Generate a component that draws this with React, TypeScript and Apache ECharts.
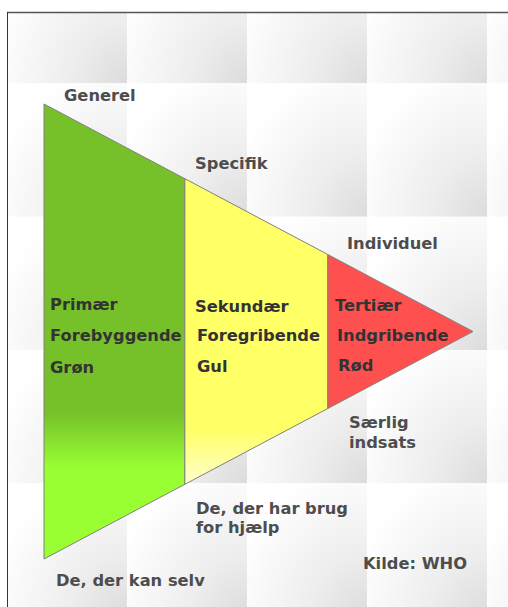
import React, { useEffect, useRef } from "react";
import * as echarts from "echarts";

// Sections of the intervention triangle (depth along the triangle, 0 = base, 3 = apex)
const sectionStarts = [0, 0.985, 1.985];
const sectionEnds = [0.985, 1.985, 3];
const apexDepth = 3;
const sectionNames = ["Primær", "Sekundær", "Tertiær"];
const sectionTypes = ["Forebyggende", "Foregribende", "Indgribende"];
const sectionColours = ["Grøn", "Gul", "Rød"];
const topLabels = ["Generel", "Specifik", "Individuel"];
const bottomLabels = ["De, der kan selv", "De, der har brug\nfor hjælp", "Særlig\nindsats"];
const sourceLabel = "Kilde: WHO";

const FONT = "'DejaVu Sans', Verdana, sans-serif";
const OUT_COLOR = "#4d4d4d";
const IN_COLOR = "#333333";

const fills = [
  new echarts.graphic.LinearGradient(0, 0, 0, 1, [
    { offset: 0, color: "#76c12a" },
    { offset: 0.68, color: "#76c12a" },
    { offset: 0.8, color: "#99ff33" },
    { offset: 1, color: "#99ff33" },
  ]),
  new echarts.graphic.LinearGradient(0, 0, 0, 1, [
    { offset: 0, color: "#ffff66" },
    { offset: 0.82, color: "#ffff66" },
    { offset: 1, color: "#ffffcc" },
  ]),
  "#ff5050",
];

function buildTiles() {
  const tiles: any[] = [];
  const tw = 120;
  const th = 133.33;
  for (let c = 0; c < 5; c++) {
    for (let r = 0; r < 5; r++) {
      tiles.push({
        type: "rect",
        z: 0,
        silent: true,
        shape: { x: 7 + c * tw, y: -50 + r * th, width: tw, height: th },
        style: {
          fill: new echarts.graphic.RadialGradient(1, 1, 1.15, [
            { offset: 0, color: "#dcdcdc" },
            { offset: 0.4, color: "#ededed" },
            { offset: 1, color: "#ffffff" },
          ]),
        },
      });
    }
  }
  return tiles;
}

function txt(text: string, x: number, y: number, color: string, extra: any = {}) {
  return {
    type: "text",
    z: 20,
    silent: true,
    x,
    y,
    style: {
      text,
      fill: color,
      font: `bold 16.3px ${FONT}`,
      textAlign: "left",
      textVerticalAlign: "middle",
      ...extra,
    },
  };
}

export default function App() {
  const ref = useRef<HTMLDivElement>(null);
  useEffect(() => {
    if (!ref.current) return;
    const chart = echarts.init(ref.current, undefined, { renderer: "svg" });
    const data = sectionStarts.map((s, i) => [s, sectionEnds[i], i]);
    const half = (d: number) => (apexDepth - d) / apexDepth;

    const graphics: any[] = [
      ...buildTiles(),
      { type: "rect", z: 1, silent: true, shape: { x: 0, y: 0, width: 508, height: 12 }, style: { fill: "#ffffff" } },
      { type: "rect", z: 1, silent: true, shape: { x: 0, y: 0, width: 7, height: 607 }, style: { fill: "#ffffff" } },
      { type: "line", z: 2, silent: true, shape: { x1: 7, y1: 12.5, x2: 508, y2: 12.5 }, style: { stroke: "#555555", lineWidth: 1.3 } },
      { type: "line", z: 2, silent: true, shape: { x1: 7.5, y1: 12, x2: 7.5, y2: 607 }, style: { stroke: "#333333", lineWidth: 1 } },
      txt(topLabels[0], 64, 95, OUT_COLOR),
      txt(topLabels[1], 195, 163, OUT_COLOR),
      txt(topLabels[2], 347, 243, OUT_COLOR),
      txt(sectionNames[0], 50, 304, IN_COLOR),
      txt(sectionTypes[0], 50, 335, IN_COLOR),
      txt(sectionColours[0], 50, 367, IN_COLOR),
      txt(sectionNames[1], 195, 306, IN_COLOR),
      txt(sectionTypes[1], 197, 335, IN_COLOR),
      txt(sectionColours[1], 197, 366, IN_COLOR),
      txt(sectionNames[2], 335, 305, IN_COLOR),
      txt(sectionTypes[2], 337, 335, IN_COLOR),
      txt(sectionColours[2], 338, 365, IN_COLOR),
      txt(bottomLabels[2], 349, 412, OUT_COLOR, { textVerticalAlign: "top", lineHeight: 20 }),
      txt(bottomLabels[1], 196, 498.5, OUT_COLOR, { textVerticalAlign: "top", lineHeight: 19 }),
      txt(bottomLabels[0], 56, 580, OUT_COLOR),
      txt(sourceLabel, 363, 563, OUT_COLOR),
    ];

    chart.setOption({
      animation: false,
      backgroundColor: "#ffffff",
      grid: { left: 44, right: 35, top: 104, bottom: 48 },
      xAxis: { type: "value", min: 0, max: apexDepth, show: false },
      yAxis: { type: "value", min: -1, max: 1, show: false },
      graphic: { elements: graphics },
      series: [
        {
          type: "custom",
          z: 5,
          silent: true,
          clip: false,
          data,
          renderItem: (params: any, api: any) => {
            const s = api.value(0);
            const e = api.value(1);
            const idx = api.value(2);
            const pts = [
              api.coord([s, half(s)]),
              api.coord([e, half(e)]),
              api.coord([e, -half(e)]),
              api.coord([s, -half(s)]),
            ];
            return {
              type: "polygon",
              shape: { points: pts },
              style: { fill: fills[idx], stroke: "#808080", lineWidth: 1 },
            };
          },
        },
      ],
    });
    return () => chart.dispose();
  }, []);
  return (
    <div
      ref={ref}
      style={{ position: "absolute", left: 0, top: 0, width: 508, height: 607 }}
    />
  );
}
